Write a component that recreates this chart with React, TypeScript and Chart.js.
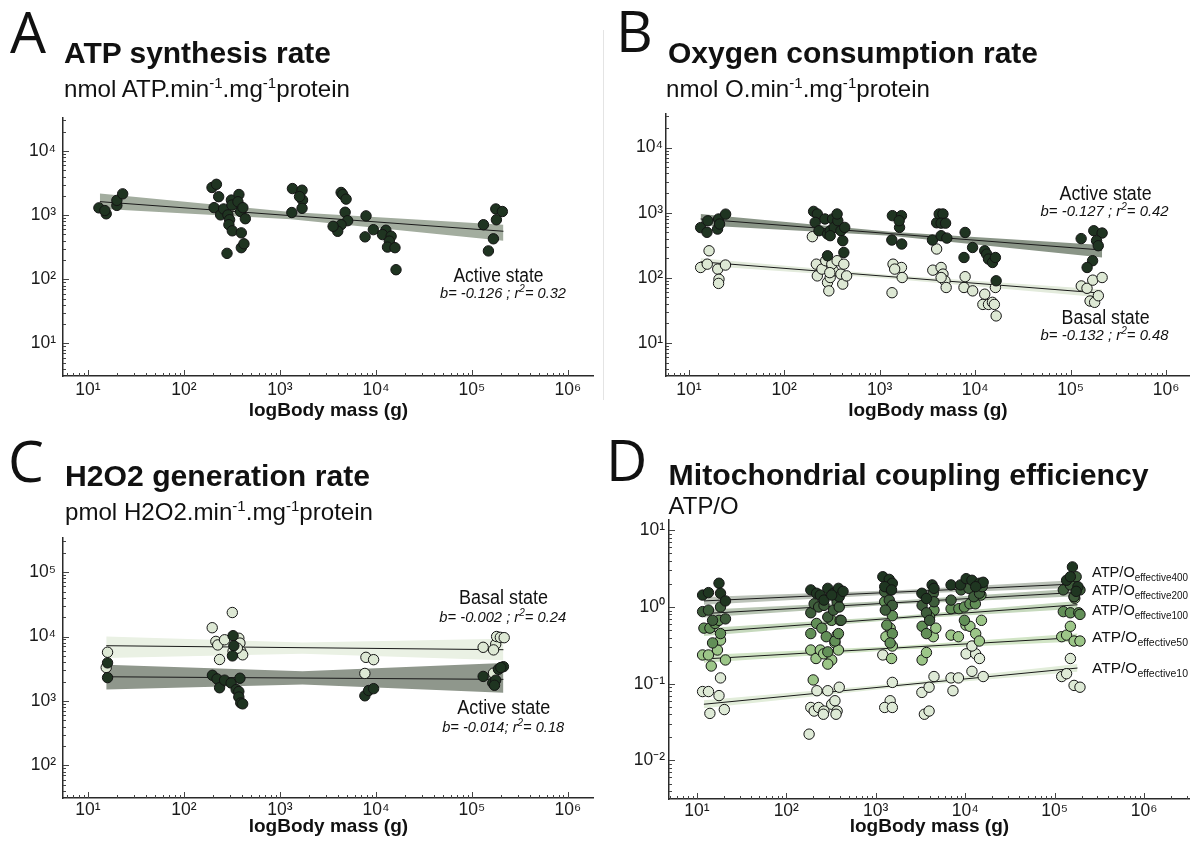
import React, { useEffect, useRef } from 'react';
import { Chart, registerables } from 'chart.js';

Chart.register(...registerables);

type P = [number, number];

const FONT = "'Liberation Sans', Arial, Helvetica, sans-serif";
const LETTER_FONT = "'Open Sans', 'Noto Sans', sans-serif";

// ---------- axes ----------
const X_TICKS = [10, 100, 1000, 10000, 100000, 1000000];
const X_TICK_LABELS = ['10¹', '10²', '10³', '10⁴', '10⁵', '10⁶'];
const Y_TICKS_AB = [10, 100, 1000, 10000];
const Y_TICK_LABELS_AB = ['10¹', '10²', '10³', '10⁴'];
const Y_TICKS_C = [100, 1000, 10000, 100000];
const Y_TICK_LABELS_C = ['10²', '10³', '10⁴', '10⁵'];
const Y_TICKS_D = [0.01, 0.1, 1, 10];
const Y_TICK_LABELS_D = ['10⁻²', '10⁻¹', '10⁰', '10¹'];
const X_TITLE = 'logBody mass (g)';

// ---------- A: ATP synthesis rate ----------
const atpActive: P[] = [
  [13, 1300], [15.5, 1050], [15, 1180], [20, 1420], [20, 1700], [23, 2150],
  [196, 2700], [218, 3030], [230, 1940], [206, 1310], [241, 1010], [259, 1250], [287, 1010],
  [299, 850], [294, 710], [319, 570], [312, 1720], [316, 1440], [374, 2100], [365, 1620],
  [389, 1140], [411, 1310], [436, 880], [396, 530], [281, 254], [396, 311], [422, 358],
  [1350, 2600], [1700, 2450], [1720, 1720], [1700, 1280], [1330, 1100], [1600, 1950],
  [4340, 2260], [4510, 2100], [4890, 1780], [4780, 1110], [5080, 820], [4340, 710], [4000, 560],
  [3580, 670], [7890, 975], [9400, 594], [7710, 459],
  [12700, 582], [11700, 498], [14400, 470], [13800, 394], [13200, 318], [15800, 311], [16200, 141],
  [131900, 710], [177400, 1250], [207700, 1140], [180000, 847], [167500, 428], [148600, 277],
];
const atpActiveFit: P[] = [[13.3, 1625], [213000, 561]];
const atpActiveHi: P[] = [[13.3, 2180], [1300, 1122], [213000, 708]];
const atpActiveLo: P[] = [[13.3, 1260], [1300, 861], [213000, 398]];

// ---------- B: Oxygen consumption rate ----------
const oxyActive: P[] = [
  [13.3, 590], [15.8, 750], [15.5, 500], [20.5, 800], [20, 560], [24.3, 950], [21, 670],
  [203, 1047], [222, 955], [211, 710], [231, 528], [267, 800], [284, 470], [303, 528], [321, 800],
  [333, 594], [364, 753], [392, 528], [430, 594], [410, 371], [421, 245], [284, 218], [358, 955], [303, 443],
  [1358, 900], [1690, 900], [1614, 594], [1600, 753], [1340, 380], [1700, 330],
  [3950, 700], [4200, 955], [4600, 955], [4400, 690], [4900, 690], [3570, 380], [4400, 443], [5050, 407],
  [7850, 497], [9400, 292], [7640, 205], [12600, 260], [13200, 231], [13800, 194], [15200, 172],
  [16300, 205], [16600, 90],
  [129000, 400], [175000, 528], [214000, 487], [187000, 371], [195000, 311], [170000, 183], [149000, 144],
];
const oxyBasal: P[] = [
  [13.3, 144], [15.6, 162], [16.3, 260], [20.1, 136], [20.7, 95], [20.5, 82], [24.2, 157],
  [197, 428], [217, 162], [222, 107], [248, 136], [272, 183], [284, 85], [293, 63], [303, 101],
  [327, 128], [315, 162], [358, 183], [392, 114], [410, 80], [421, 162], [450, 107], [300, 120],
  [1346, 59], [1380, 162], [1690, 144], [1720, 101], [1435, 136],
  [3600, 131], [3950, 277], [4400, 144], [4600, 114], [4830, 90], [4970, 71], [4400, 101],
  [7640, 71], [7850, 104], [9420, 63], [12600, 56], [12050, 39], [13800, 39], [15170, 42],
  [15900, 39], [16300, 71], [16600, 26],
  [129400, 75], [148600, 69], [170600, 92], [160000, 44], [178600, 42], [195300, 53], [214000, 101],
];
const oxyActiveFit: P[] = [[13.3, 800], [214000, 267]];
const oxyActiveHi: P[] = [[13.3, 955], [1300, 510], [214000, 320]];
const oxyActiveLo: P[] = [[13.3, 640], [1300, 444], [214000, 205]];
const oxyBasalFit: P[] = [[13.3, 176], [214000, 58]];
const oxyBasalHi: P[] = [[13.3, 200], [1300, 110], [214000, 66]];
const oxyBasalLo: P[] = [[13.3, 155], [1300, 97], [214000, 50]];

// ---------- C: H2O2 generation rate ----------
const h2o2Basal: P[] = [
  [16, 5700], [15.5, 3300],
  [197, 13700], [319, 23600], [215, 8400], [225, 7400], [235, 4400], [265, 8900], [373, 9400],
  [383, 7900], [391, 5900], [409, 5200], [325, 5900], [360, 6600],
  [7870, 4750], [9460, 4370], [7670, 2670],
  [131000, 6800], [177000, 7600], [181000, 10000], [198000, 9700], [217000, 9600], [168000, 6200], [168000, 2700],
];
const h2o2Active: P[] = [
  [16, 3900], [16, 2300],
  [198, 2500], [221, 2200], [235, 1600], [265, 2100], [310, 1900], [325, 10300], [331, 7200],
  [320, 5000], [350, 1500], [373, 1400], [383, 2250], [373, 1150], [391, 930], [409, 900],
  [7670, 1200], [8400, 1450], [9460, 1550],
  [131000, 2400], [165000, 1900], [177000, 2100], [172000, 1750], [189000, 3100], [213000, 3400], [200000, 3300],
];
const h2o2BasalFit: P[] = [[15.5, 7200], [213000, 6240]];
const h2o2BasalHi: P[] = [[15.5, 10000], [1720, 8090], [213000, 9200]];
const h2o2BasalLo: P[] = [[15.5, 4650], [1720, 5400], [213000, 4270]];
const h2o2ActiveFit: P[] = [[15.5, 2370], [213000, 2160]];
const h2o2ActiveHi: P[] = [[15.5, 3660], [1720, 2890], [213000, 3880]];
const h2o2ActiveLo: P[] = [[15.5, 1510], [1720, 1800], [213000, 1340]];

// ---------- D: Mitochondrial coupling efficiency ----------
const eff400: P[] = [
  [11.6, 1.43], [13.5, 1.54], [17.7, 2.04], [18.4, 1.51], [20.9, 1.2],
  [188, 1.67], [218, 1.51], [240, 1.43], [291, 1.75], [337, 1.51], [383, 1.75], [391, 1.36], [264, 1.23],
  [322, 1.43], [431, 1.6],
  [1200, 2.48], [1416, 2.29], [1534, 2.04], [1260, 1.84], [1503, 1.67],
  [3280, 1.51], [4270, 1.94], [4480, 1.75], [3690, 1.29],
  [6950, 1.94], [8870, 1.94], [10250, 2.34], [11900, 2.23], [14450, 2.04], [15900, 2.1], [13100, 1.84],
  [136000, 2.23], [158000, 3.33], [150000, 2.48], [182000, 1.84], [174000, 1.6],
];
const eff200: P[] = [
  [11.6, 0.87], [13.5, 0.91], [18.4, 1.0], [20.9, 0.7], [15, 0.67],
  [188, 0.84], [205, 1.1], [230, 1.0], [264, 1.05], [291, 0.74], [337, 0.91], [370, 1.17], [391, 1.0], [410, 0.67],
  [1260, 1.58], [1416, 1.23], [1534, 1.05], [1280, 0.91], [1470, 1.67],
  [3300, 1.05], [3690, 0.84], [4400, 1.51], [4000, 0.67], [4480, 1.17],
  [6950, 1.23], [9000, 1.67], [11000, 1.75], [12500, 1.36], [14450, 1.51], [15500, 1.84],
  [125000, 1.67], [150000, 1.94], [174000, 2.48], [192000, 1.67], [165000, 1.36],
];
const eff100: P[] = [
  [12, 0.53], [14, 0.53], [16, 0.61], [17.7, 0.67], [18.4, 0.45], [15, 0.34],
  [188, 0.45], [218, 0.61], [250, 0.53], [280, 0.41], [322, 0.67], [350, 0.36], [383, 0.45], [400, 0.67], [291, 0.26],
  [1260, 1.17], [1534, 0.77], [1330, 0.58], [1534, 0.45], [1450, 0.34],
  [3300, 0.56], [3690, 0.45], [4480, 0.91], [4000, 0.74],
  [6950, 0.95], [8500, 0.95], [9800, 1.0], [11300, 1.1], [13000, 1.1], [15000, 1.43], [9800, 0.67],
  [125000, 0.87], [150000, 0.84], [165000, 1.36], [186000, 0.84], [192000, 0.8],
];
const eff50: P[] = [
  [11.6, 0.237], [13.5, 0.237], [14.5, 0.17], [17, 0.275], [18.4, 0.37], [20.9, 0.204],
  [188, 0.275], [215, 0.213], [240, 0.275], [262, 0.245], [322, 0.204], [350, 0.34], [370, 0.43],
  [383, 0.275], [291, 0.18], [200, 0.112],
  [1503, 0.213], [1534, 0.31], [1300, 0.41], [1450, 0.53],
  [3300, 0.204], [3690, 0.255], [4400, 0.41], [4700, 0.53],
  [6950, 0.43], [8400, 0.41], [10200, 0.58], [11300, 0.56], [13100, 0.45], [15200, 0.67], [14400, 0.36],
  [120000, 0.41], [136000, 0.43], [150000, 0.56], [165000, 0.36], [192000, 0.36], [168000, 1.3],
];
const eff10: P[] = [
  [11.6, 0.079], [13.5, 0.079], [14, 0.041], [18.4, 0.119], [17.7, 0.07], [20.3, 0.046],
  [180, 0.022], [188, 0.049], [205, 0.044], [230, 0.049], [264, 0.044], [291, 0.081], [322, 0.054],
  [350, 0.06], [370, 0.044], [391, 0.09], [220, 0.081], [260, 0.04], [360, 0.04],
  [1200, 0.237], [1534, 0.104], [1450, 0.06], [1260, 0.049], [1534, 0.049],
  [3280, 0.077], [3950, 0.09], [4480, 0.124], [3500, 0.04], [3950, 0.044],
  [6950, 0.119], [8400, 0.119], [7300, 0.081], [10250, 0.245], [11900, 0.145], [13100, 0.245],
  [14450, 0.213], [11900, 0.31], [15900, 0.124],
  [120000, 0.124], [136000, 0.135], [150000, 0.213], [165000, 0.095], [192000, 0.09],
];
const eff400Fit: P[] = [[12, 1.2], [180000, 2.0]];
const eff400Hi: P[] = [[12, 1.35], [2000, 1.66], [180000, 2.24]];
const eff400Lo: P[] = [[12, 1.07], [2000, 1.48], [180000, 1.78]];
const eff200Fit: P[] = [[12, 0.82], [180000, 1.55]];
const eff200Hi: P[] = [[12, 0.92], [2000, 1.22], [180000, 1.74]];
const eff200Lo: P[] = [[12, 0.73], [2000, 1.09], [180000, 1.38]];
const eff100Fit: P[] = [[12, 0.47], [180000, 1.07]];
const eff100Hi: P[] = [[12, 0.53], [2000, 0.77], [180000, 1.2]];
const eff100Lo: P[] = [[12, 0.42], [2000, 0.69], [180000, 0.95]];
const eff50Fit: P[] = [[12, 0.21], [180000, 0.4]];
const eff50Hi: P[] = [[12, 0.236], [2000, 0.313], [180000, 0.45]];
const eff50Lo: P[] = [[12, 0.187], [2000, 0.28], [180000, 0.356]];
const eff10Fit: P[] = [[12, 0.054], [180000, 0.16]];
const eff10Hi: P[] = [[12, 0.061], [2000, 0.102], [180000, 0.18]];
const eff10Lo: P[] = [[12, 0.048], [2000, 0.091], [180000, 0.143]];

// ---------- styles ----------
const DARK = '#1f3421';
const PALE = '#dde8d4';

type Series = { pts?: P[]; color?: string; fit?: P[]; hi?: P[]; lo?: P[]; band?: string };

type PanelProps = {
  left: number; top: number; width: number; height: number;
  padTop: number; padRight: number; yWidth: number; xHeight: number;
  xExp: [number, number]; yExp: [number, number];
  yTicks: number[]; yLabels: string[];
  xTickPad: number; yTickPad: number; titlePadBottom: number; radius: number;
  series: Series[];
};

const toXY = (p: P) => ({ x: p[0], y: p[1] });

const innerTicks = {
  id: 'innerTicks',
  afterDraw(chart: any) {
    const { ctx, chartArea, scales } = chart;
    ctx.save();
    ctx.strokeStyle = '#444';
    ctx.lineWidth = 1;
    const axes: [string, boolean][] = [['x', true], ['y', false]];
    for (const [id, horiz] of axes) {
      const s = scales[id];
      for (let k = -3; k <= 7; k++) {
        for (let m = 1; m <= 9; m++) {
          const v = m * Math.pow(10, k);
          if (v < s.min || v > s.max) continue;
          const p = Math.round(s.getPixelForValue(v)) + 0.5;
          const len = m === 1 ? 6 : 3;
          ctx.beginPath();
          if (horiz) {
            ctx.moveTo(p, chartArea.bottom);
            ctx.lineTo(p, chartArea.bottom - len);
          } else {
            ctx.moveTo(chartArea.left, p);
            ctx.lineTo(chartArea.left + len, p);
          }
          ctx.stroke();
        }
      }
    }
    ctx.restore();
  },
};

function Panel(props: PanelProps) {
  const ref = useRef<HTMLCanvasElement>(null);
  useEffect(() => {
    const ds: any[] = [];
    props.series.forEach((s) => {
      if (s.hi && s.lo) {
        const hiIdx = ds.length;
        ds.push({ type: 'line', data: s.hi.map(toXY), borderWidth: 0, pointRadius: 0, fill: false, order: 3 });
        ds.push({ type: 'line', data: s.lo.map(toXY), borderWidth: 0, pointRadius: 0, fill: hiIdx, backgroundColor: s.band, order: 3 });
      }
    });
    props.series.forEach((s) => {
      if (s.fit) ds.push({ type: 'line', data: s.fit.map(toXY), borderColor: '#1a1a1a', borderWidth: 1, pointRadius: 0, fill: false, order: 2 });
    });
    props.series.forEach((s) => {
      if (s.pts) ds.push({
        type: 'scatter', data: s.pts.map(toXY), backgroundColor: s.color, borderColor: '#141414',
        borderWidth: 1, pointRadius: props.radius, order: 1,
      });
    });
    const tickFont = { family: FONT, size: 17.5 };
    const chart = new Chart(ref.current as HTMLCanvasElement, {
      type: 'scatter',
      data: { datasets: ds },
      plugins: [innerTicks],
      options: {
        animation: false,
        responsive: false,
        maintainAspectRatio: false,
        events: [],
        layout: { padding: { top: props.padTop, right: props.padRight, left: 0, bottom: 0 } },
        plugins: { legend: { display: false }, tooltip: { enabled: false } },
        scales: {
          x: {
            type: 'logarithmic',
            min: Math.pow(10, props.xExp[0]),
            max: Math.pow(10, props.xExp[1]),
            afterBuildTicks: (s: any) => { s.ticks = X_TICKS.map((v) => ({ value: v })); },
            afterFit: (s: any) => { s.height = props.xHeight; },
            ticks: {
              autoSkip: false, maxRotation: 0, minRotation: 0, padding: props.xTickPad,
              font: tickFont, color: '#1a1a1a',
              callback: (_v: any, i: number) => X_TICK_LABELS[i],
            },
            grid: { display: false, drawTicks: false },
            border: { display: true, color: '#2a2a2a', width: 1.5 },
            title: {
              display: true, text: X_TITLE, color: '#111',
              font: { family: FONT, size: 19, weight: 'bold' },
              padding: { top: 0, bottom: props.titlePadBottom },
            },
          },
          y: {
            type: 'logarithmic',
            min: Math.pow(10, props.yExp[0]),
            max: Math.pow(10, props.yExp[1]),
            afterBuildTicks: (s: any) => { s.ticks = props.yTicks.map((v) => ({ value: v })); },
            afterFit: (s: any) => { s.width = props.yWidth; },
            ticks: {
              autoSkip: false, padding: props.yTickPad, font: tickFont, color: '#1a1a1a',
              callback: (_v: any, i: number) => props.yLabels[i],
            },
            grid: { display: false, drawTicks: false },
            border: { display: true, color: '#2a2a2a', width: 1.5 },
          },
        },
      } as any,
    });
    return () => chart.destroy();
  }, []);
  return (
    <canvas
      ref={ref}
      width={props.width}
      height={props.height}
      style={{ position: 'absolute', left: props.left, top: props.top, width: props.width, height: props.height }}
    />
  );
}

function Sup({ t, size, shift, back }: { t: string; size: number; shift: number; back: string }) {
  return (
    <>
      <tspan dy={-shift} fontSize={size}>{t}</tspan>
      <tspan dy={shift}>{back}</tspan>
    </>
  );
}

function Stat({ x, y, b, r, len }: { x: number; y: number; b: string; r: string; len: number }) {
  return (
    <text x={x} y={y} fontSize={15.5} fontStyle="italic" textAnchor="middle" textLength={len} lengthAdjust="spacingAndGlyphs">
      {'b= ' + b + 'r'}
      <tspan dy={-6} fontSize={10.5}>2</tspan>
      <tspan dy={6}>{'= ' + r}</tspan>
    </text>
  );
}

function EffLabel({ y, n }: { y: number; n: string }) {
  return (
    <text x={1092} y={y} fontSize={15.5} textLength={96} lengthAdjust="spacingAndGlyphs">
      ATP/O
      <tspan dy={4} fontSize={10.5}>{'effective' + n}</tspan>
    </text>
  );
}

export default function App() {
  return (
    <div style={{ position: 'absolute', left: 0, top: 0, width: 1196, height: 850, background: '#fff', overflow: 'hidden' }}>
      <Panel
        left={0} top={100} width={600} height={330} padTop={13} padRight={5} yWidth={63} xHeight={54}
        xExp={[0.74, 6.27]} yExp={[0.492, 4.523]} yTicks={Y_TICKS_AB} yLabels={Y_TICK_LABELS_AB}
        xTickPad={4} yTickPad={7} titlePadBottom={8} radius={5.2}
        series={[{ pts: atpActive, color: DARK, fit: atpActiveFit, hi: atpActiveHi, lo: atpActiveLo, band: '#a3ad9f' }]}
      />
      <Panel
        left={600} top={100} width={596} height={330} padTop={13} padRight={2} yWidth={66} xHeight={54}
        xExp={[0.761, 6.249]} yExp={[0.492, 4.523]} yTicks={Y_TICKS_AB} yLabels={Y_TICK_LABELS_AB}
        xTickPad={4} yTickPad={3} titlePadBottom={8} radius={5.2}
        series={[
          { pts: oxyActive, color: DARK, fit: oxyActiveFit, hi: oxyActiveHi, lo: oxyActiveLo, band: '#8a9587' },
          { pts: oxyBasal, color: PALE, fit: oxyBasalFit, hi: oxyBasalHi, lo: oxyBasalLo, band: '#e3ebdc' },
        ]}
      />
      <Panel
        left={0} top={520} width={600} height={330} padTop={15} padRight={5} yWidth={63} xHeight={52}
        xExp={[0.74, 6.27]} yExp={[1.492, 5.538]} yTicks={Y_TICKS_C} yLabels={Y_TICK_LABELS_C}
        xTickPad={2} yTickPad={7} titlePadBottom={12} radius={5.2}
        series={[
          { pts: h2o2Active, color: DARK, fit: h2o2ActiveFit, hi: h2o2ActiveHi, lo: h2o2ActiveLo, band: '#8f978c' },
          { pts: h2o2Basal, color: PALE, fit: h2o2BasalFit, hi: h2o2BasalHi, lo: h2o2BasalLo, band: '#eaf1e4' },
        ]}
      />
      <Panel
        left={600} top={505} width={596} height={345} padTop={15} padRight={3} yWidth={69} xHeight={51}
        xExp={[0.689, 6.511]} yExp={[-2.503, 1.134]} yTicks={Y_TICKS_D} yLabels={Y_TICK_LABELS_D}
        xTickPad={2} yTickPad={4} titlePadBottom={12} radius={5.2}
        series={[
          { pts: eff400, color: '#1f3621', fit: eff400Fit, hi: eff400Hi, lo: eff400Lo, band: '#bcc3b9' },
          { pts: eff200, color: '#3e5d3b', fit: eff200Fit, hi: eff200Hi, lo: eff200Lo, band: '#b9c6b4' },
          { pts: eff100, color: '#628f57', fit: eff100Fit, hi: eff100Hi, lo: eff100Lo, band: '#c6d9bd' },
          { pts: eff50, color: '#9cc688', fit: eff50Fit, hi: eff50Hi, lo: eff50Lo, band: '#d2e5c6' },
          { pts: eff10, color: '#deead6', fit: eff10Fit, hi: eff10Hi, lo: eff10Lo, band: '#e2edda' },
        ]}
      />
      <svg width={1196} height={850} style={{ position: 'absolute', left: 0, top: 0, pointerEvents: 'none' }} fontFamily={FONT} fill="#111">
        <line x1={603.5} y1={30} x2={603.5} y2={400} stroke="#e4e4e4" strokeWidth={1} />

        {/* A */}
        <text x={10} y={53} fontSize={57} fontFamily={LETTER_FONT}>A</text>
        <text x={64} y={63} fontSize={29} fontWeight="bold" textLength={267} lengthAdjust="spacingAndGlyphs">ATP synthesis rate</text>
        <text x={64} y={97} fontSize={24} textLength={286} lengthAdjust="spacingAndGlyphs">
          nmol ATP.min<Sup t="-1" size={15} shift={9} back=".mg" /><Sup t="-1" size={15} shift={9} back="protein" />
        </text>
        <text x={498.5} y={282} fontSize={20} textAnchor="middle" textLength={90} lengthAdjust="spacingAndGlyphs">Active state</text>
        <Stat x={503} y={298} b="-0.126 ; " r="0.32" len={126} />

        {/* B */}
        <text x={616} y={52} fontSize={57} fontFamily={LETTER_FONT}>B</text>
        <text x={668} y={63} fontSize={29} fontWeight="bold" textLength={370} lengthAdjust="spacingAndGlyphs">Oxygen consumption rate</text>
        <text x={666} y={97} fontSize={24} textLength={264} lengthAdjust="spacingAndGlyphs">
          nmol O.min<Sup t="-1" size={15} shift={9} back=".mg" /><Sup t="-1" size={15} shift={9} back="protein" />
        </text>
        <text x={1105.6} y={199.5} fontSize={20} textAnchor="middle" textLength={92} lengthAdjust="spacingAndGlyphs">Active state</text>
        <Stat x={1104.6} y={216} b="-0.127 ; " r="0.42" len={128} />
        <text x={1105.6} y={323.5} fontSize={20} textAnchor="middle" textLength={88} lengthAdjust="spacingAndGlyphs">Basal state</text>
        <Stat x={1104.6} y={339.5} b="-0.132 ; " r="0.48" len={128} />

        {/* C */}
        <text x={8} y={482} fontSize={57} fontFamily={LETTER_FONT}>C</text>
        <text x={65} y={486} fontSize={29} fontWeight="bold" textLength={305} lengthAdjust="spacingAndGlyphs">H2O2 generation rate</text>
        <text x={65} y={520} fontSize={24} textLength={308} lengthAdjust="spacingAndGlyphs">
          pmol H2O2.min<Sup t="-1" size={15} shift={9} back=".mg" /><Sup t="-1" size={15} shift={9} back="protein" />
        </text>
        <text x={503.6} y={604} fontSize={20} textAnchor="middle" textLength={89} lengthAdjust="spacingAndGlyphs">Basal state</text>
        <Stat x={502.8} y={621.5} b="-0.002 ; " r="0.24" len={127} />
        <text x={503.8} y={714} fontSize={20} textAnchor="middle" textLength={93} lengthAdjust="spacingAndGlyphs">Active state</text>
        <Stat x={503.2} y={731.5} b="-0.014; " r="0.18" len={122} />

        {/* D */}
        <text x={606} y={481} fontSize={57} fontFamily={LETTER_FONT}>D</text>
        <text x={668.6} y={485} fontSize={29} fontWeight="bold" textLength={480} lengthAdjust="spacingAndGlyphs">Mitochondrial coupling efficiency</text>
        <text x={668.6} y={514} fontSize={24} textLength={70} lengthAdjust="spacingAndGlyphs">ATP/O</text>
        <EffLabel y={576.7} n="400" />
        <EffLabel y={595} n="200" />
        <EffLabel y={614.5} n="100" />
        <EffLabel y={642} n="50" />
        <EffLabel y={672.7} n="10" />
      </svg>
    </div>
  );
}
